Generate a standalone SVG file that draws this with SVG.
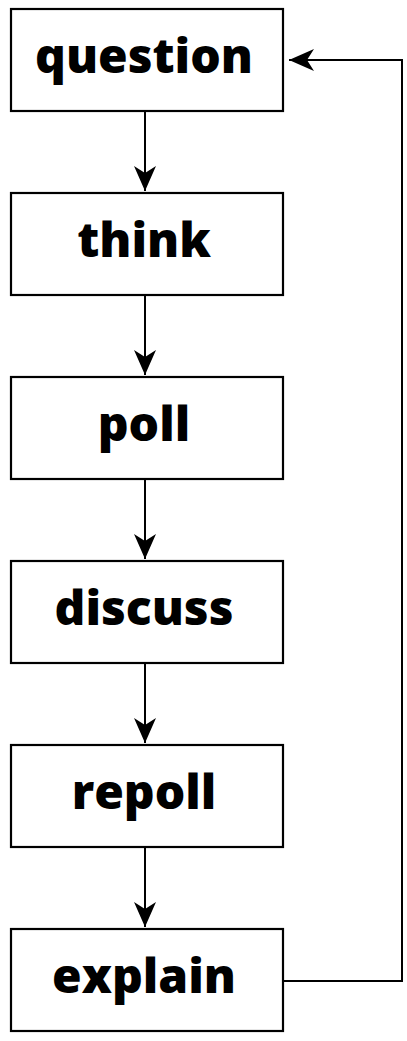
<svg xmlns="http://www.w3.org/2000/svg" width="407" height="1041" viewBox="0 0 407 1041">
<style>
.box{fill:#fff;stroke:#000;stroke-width:2.2}
.lbl{font-family:"Open Sans","Noto Sans",sans-serif;font-weight:800;font-size:48px;text-anchor:middle;fill:#000}
.edge{fill:none;stroke:#000;stroke-width:2}
</style>
<defs>
<marker id="ah" markerWidth="26" markerHeight="24" refX="25" refY="12" orient="auto" markerUnits="userSpaceOnUse">
<path d="M0,1 L25,12 L0,23 L7,12 Z" fill="#000"/>
</marker>
</defs>
<rect width="407" height="1041" fill="#fff"/>
<g id="question"><rect class="box" x="11" y="9" width="272" height="102"/><text class="lbl" x="144" y="73">question</text></g>
<g id="think"><rect class="box" x="11" y="193" width="272" height="102"/><text class="lbl" x="144" y="257">think</text></g>
<g id="poll"><rect class="box" x="11" y="377" width="272" height="102"/><text class="lbl" x="144" y="441">poll</text></g>
<g id="discuss"><rect class="box" x="11" y="561" width="272" height="102"/><text class="lbl" x="144" y="625">discuss</text></g>
<g id="repoll"><rect class="box" x="11" y="745" width="272" height="102"/><text class="lbl" x="144" y="809">repoll</text></g>
<g id="explain"><rect class="box" x="11" y="929" width="272" height="102"/><text class="lbl" x="144" y="993">explain</text></g>
<g id="connectors">
<path class="edge" d="M145,112 V191" marker-end="url(#ah)"/>
<path class="edge" d="M145,296 V375" marker-end="url(#ah)"/>
<path class="edge" d="M145,480 V559" marker-end="url(#ah)"/>
<path class="edge" d="M145,664 V743" marker-end="url(#ah)"/>
<path class="edge" d="M145,848 V927" marker-end="url(#ah)"/>
<path class="edge" d="M284,981 H402 V60 H289" marker-end="url(#ah)"/>
</g>
</svg>
